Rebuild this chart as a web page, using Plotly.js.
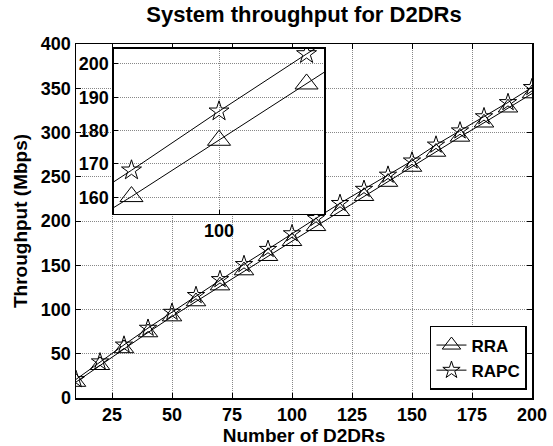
<!DOCTYPE html>
<html>
<head>
<meta charset="utf-8">
<script src="https://cdn.plot.ly/plotly-3.0.1.min.js"></script>
<style>html,body{margin:0;padding:0;background:#fff;}#chart{width:553px;height:446px;}</style>
</head>
<body>
<div id="chart"></div>
<script>
// Data
const numD2DRs = [10, 20, 30, 40, 50, 60, 70, 80, 90, 100, 110, 120, 130, 140, 150, 160, 170, 180, 190, 200];
const rraThroughput = [18, 37, 56, 74, 92, 109, 127, 144, 160.2, 177.1, 194, 211, 228, 244, 261, 278, 295, 311, 328, 344];
const rapcThroughput = [21, 41, 60, 79, 97, 116, 134, 151, 168.1, 185.8, 203, 220, 236, 252, 268, 286, 302, 318, 334, 351];
const seriesNames = ["RRA", "RAPC"];
const xTickVals = [25, 50, 75, 100, 125, 150, 175, 200];
const yTickVals = [0, 50, 100, 150, 200, 250, 300, 350, 400];
const insetXTickVals = [100];
const insetYTickVals = [160, 170, 180, 190, 200];

const FONT = "Liberation Sans, Arial, sans-serif";
const tickFont = {family: FONT, size: 18, color: "#000", weight: "bold"};

function mk(name, y, sym, size, xa, ya, legend) {
  return {
    type: "scatter", mode: "lines+markers", name: name,
    x: numD2DRs, y: y, xaxis: xa, yaxis: ya, showlegend: legend,
    line: {color: "#000", width: 1},
    marker: {symbol: sym, size: size, color: "#000", line: {color: "#000", width: 1}}
  };
}

const traces = [
  mk(seriesNames[0], rraThroughput, "triangle-up-open", 17, "x", "y", true),
  mk(seriesNames[1], rapcThroughput, "star-open", 13, "x", "y", true),
  mk(seriesNames[0], rraThroughput, "triangle-up-open", 20, "x2", "y2", false),
  mk(seriesNames[1], rapcThroughput, "star-open", 15, "x2", "y2", false)
];

const axCommon = {
  showline: true, linecolor: "#000", linewidth: 1.5, mirror: "ticks",
  ticks: "inside", ticklen: 5, tickcolor: "#000", tickwidth: 1,
  showgrid: true, gridcolor: "#888", griddash: "1px,1px", gridwidth: 1,
  zeroline: false, tickfont: tickFont
};

const layout = {
  width: 553, height: 446,
  margin: {l: 76, r: 21, t: 44, b: 48},
  paper_bgcolor: "#fff", plot_bgcolor: "#fff",
  title: {text: "System throughput for D2DRs", font: {family: FONT, size: 22, color: "#000", weight: "bold"},
          xref: "paper", x: 0.5, xanchor: "center", yref: "container", y: 0.968, yanchor: "middle"},
  xaxis: Object.assign({}, axCommon, {
    range: [10, 200], tickmode: "array", tickvals: xTickVals, domain: [0, 1],
    title: {text: "Number of D2DRs", font: {family: FONT, size: 19, color: "#000", weight: "bold"}, standoff: 0}
  }),
  yaxis: Object.assign({}, axCommon, {
    range: [0, 400], tickmode: "array", tickvals: yTickVals, domain: [0, 1],
    title: {text: "Throughput (Mbps)", font: {family: FONT, size: 19, color: "#000", weight: "bold"}, standoff: 8}
  }),
  xaxis2: Object.assign({}, axCommon, {
    range: [88, 112], tickmode: "array", tickvals: insetXTickVals, anchor: "y2",
    domain: [0.0833, 0.544], mirror: true, ticklen: 4
  }),
  yaxis2: Object.assign({}, axCommon, {
    range: [155, 204.5], tickmode: "array", tickvals: insetYTickVals, anchor: "x2",
    domain: [0.52, 0.986], mirror: true, ticklen: 4
  }),
  legend: {
    x: 0.989, y: 0.0226, xanchor: "right", yanchor: "bottom",
    bgcolor: "#fff", bordercolor: "#000", borderwidth: 1.5,
    font: {family: FONT, size: 17, color: "#000", weight: "bold"},
    tracegroupgap: 0, itemwidth: 30
  },
  showlegend: true
};

Plotly.newPlot("chart", traces, layout, {displayModeBar: false, staticPlot: true});
</script>
</body>
</html>
